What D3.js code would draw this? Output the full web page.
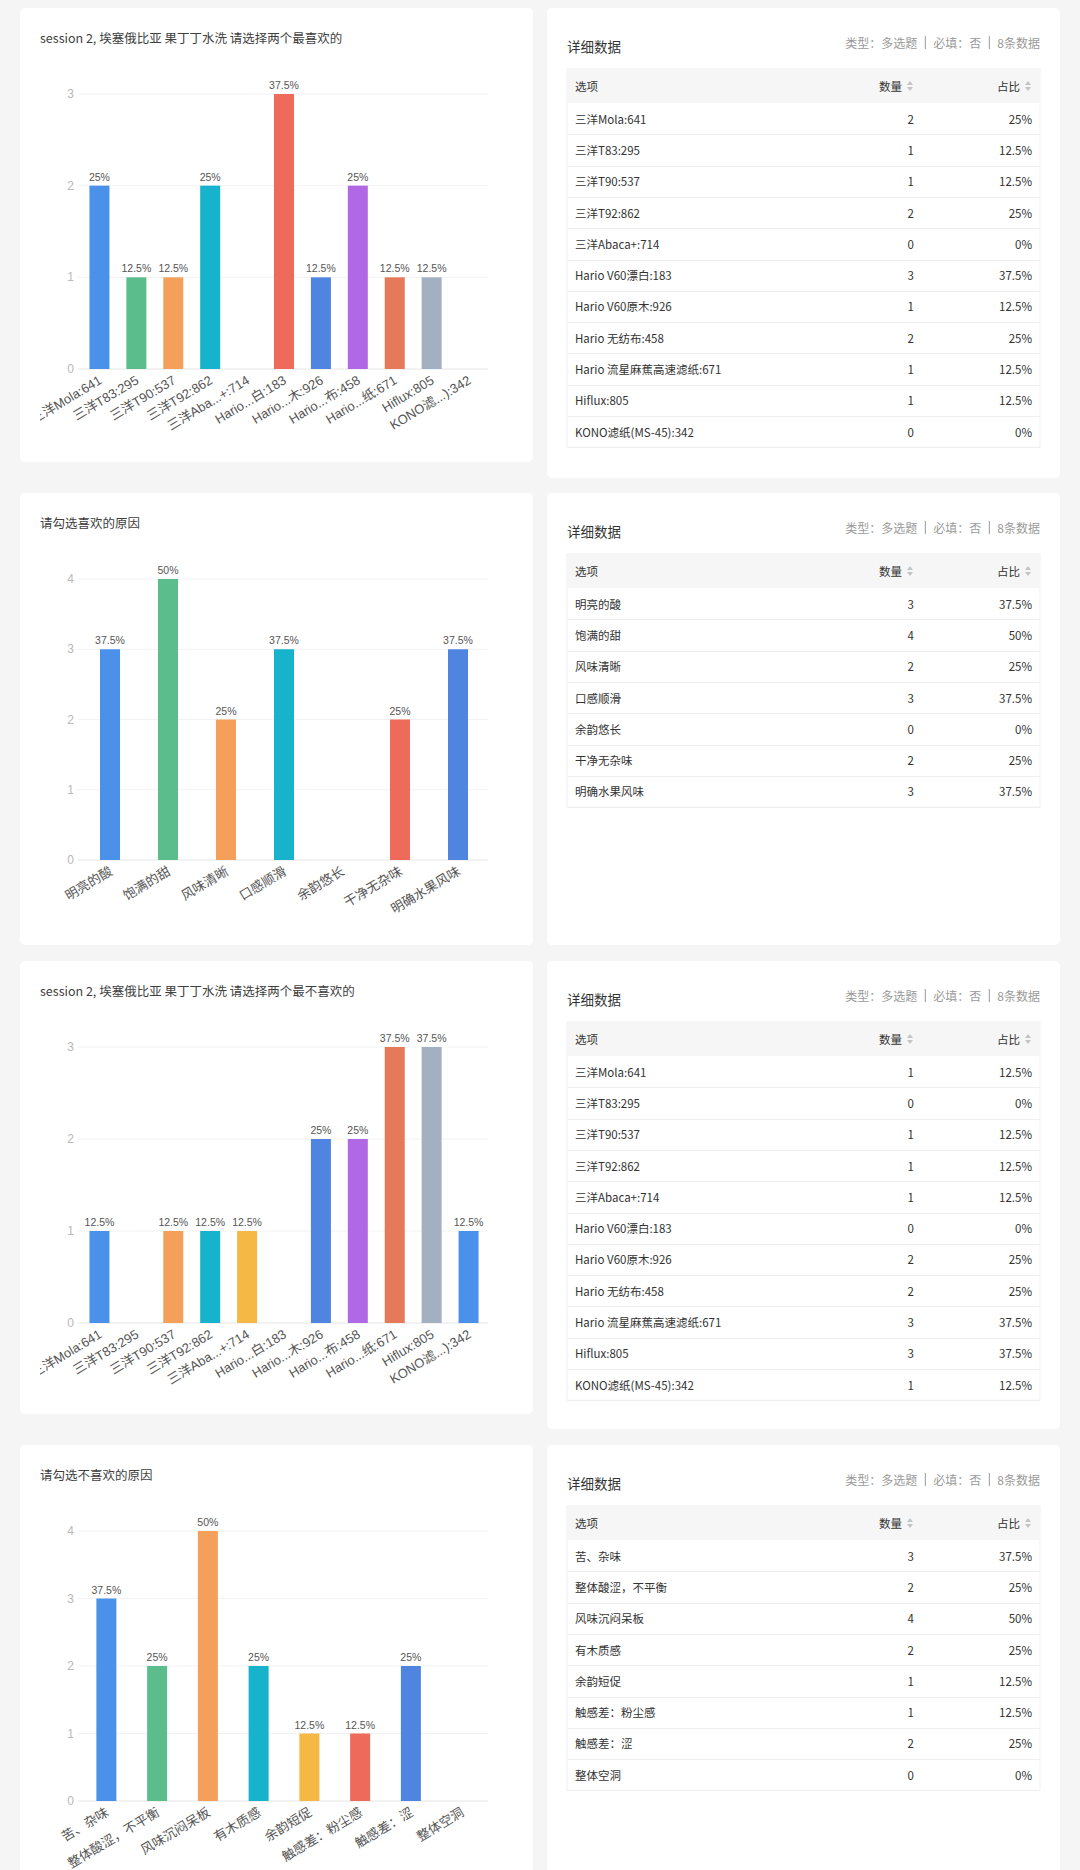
<!DOCTYPE html>
<html>
<head>
<meta charset="utf-8">
<script src="https://cdn.jsdelivr.net/npm/d3@7"></script>
<style>
  body { margin: 0; background: #f5f5f5; }
  svg { display: block; }
</style>
</head>
<body>
<svg id="page"></svg>
<script>
// ---- data ----
const totalAnswers = 8;

const filterNames = ['三洋Mola:641', '三洋T83:295', '三洋T90:537', '三洋T92:862', '三洋Abaca+:714',
  'Hario V60漂白:183', 'Hario V60原木:926', 'Hario 无纺布:458', 'Hario 流星麻蕉高速滤纸:671',
  'Hiflux:805', 'KONO滤纸(MS-45):342'];
// shortened axis labels used by the chart
const filterTicks = ['三洋Mola:641', '三洋T83:295', '三洋T90:537', '三洋T92:862', '三洋Aba...+:714',
  'Hario...白:183', 'Hario...木:926', 'Hario...布:458', 'Hario...纸:671', 'Hiflux:805', 'KONO滤...):342'];

const favCounts = [2, 1, 1, 2, 0, 3, 1, 2, 1, 1, 0];
const leastFavCounts = [1, 0, 1, 1, 1, 0, 2, 2, 3, 3, 1];

const likeReasons = ['明亮的酸', '饱满的甜', '风味清晰', '口感顺滑', '余韵悠长', '干净无杂味', '明确水果风味'];
const likeReasonCounts = [3, 4, 2, 3, 0, 2, 3];

const dislikeReasons = ['苦、杂味', '整体酸涩，不平衡', '风味沉闷呆板', '有木质感', '余韵短促', '触感差：粉尘感', '触感差：涩', '整体空洞'];
const dislikeReasonCounts = [3, 2, 4, 2, 1, 1, 2, 0];

const titles = [
  'session 2, 埃塞俄比亚 果丁丁水洗 请选择两个最喜欢的',
  '请勾选喜欢的原因',
  'session 2, 埃塞俄比亚 果丁丁水洗 请选择两个最不喜欢的',
  '请勾选不喜欢的原因',
];

const metaParts = ['类型：多选题', '必填：否', '8条数据'];

const palette = ['#4b91e9', '#5bbd8c', '#f4a05a', '#17b2cc', '#f6b844',
  '#ee6a5b', '#4f84e0', '#b068e4', '#e47a5a', '#a2b0c1'];

// ---- layout ----
const W = 1080, H = 1870;
const rowTops = [8, 493, 961, 1445];
const leftCard = { x: 20, w: 513 };
const rightCard = { x: 547, w: 513 };
const leftHeights = [454, 452, 453, 460];
const rightHeights = [470, 452, 468, 460];
const plotBottoms = [361, 367, 362, 356]; // offset of the zero line from card top

const pct = d3.format('.1~%');
const chartFont = '"Liberation Sans", Arial, "Noto Sans CJK SC", sans-serif';
const uiFont = '"Noto Sans CJK SC", "Noto Sans", sans-serif';

const svg = d3.select('#page').attr('width', W).attr('height', H);
svg.append('rect').attr('width', W).attr('height', H).attr('fill', '#f5f5f5');

function card(x, y, w, h) {
  svg.append('rect')
    .attr('x', x).attr('y', y).attr('width', w).attr('height', h)
    .attr('rx', 5).attr('fill', '#fff');
}

function renderBarCard(i, names, ticks, counts) {
  const top = rowTops[i];
  card(leftCard.x, top, leftCard.w, leftHeights[i]);

  svg.append('text')
    .attr('x', 40).attr('y', top + 29)
    .attr('dominant-baseline', 'central')
    .style('font-family', uiFont).style('font-size', '12.5px')
    .attr('fill', '#404040')
    .text(titles[i]);

  const clipId = 'clip' + i;
  svg.append('clipPath').attr('id', clipId)
    .append('rect').attr('x', 40).attr('y', top).attr('width', 490).attr('height', leftHeights[i]);

  const g = svg.append('g').attr('clip-path', `url(#${clipId})`);

  const maxV = d3.max(counts);
  const xScale = d3.scaleBand().domain(names).range([81, 487]);
  const yScale = d3.scaleLinear().domain([0, maxV]).range([top + plotBottoms[i], top + 86]);

  // gridlines
  const yTicks = d3.range(0, maxV + 1);
  g.append('g').selectAll('line').data(yTicks).join('line')
    .attr('x1', 78).attr('x2', 488)
    .attr('y1', (d) => yScale(d)).attr('y2', (d) => yScale(d))
    .attr('stroke', (d) => (d === 0 ? '#e6e6e6' : '#f2f2f2'))
    .attr('stroke-width', 1);

  // y labels
  g.append('g').selectAll('text').data(yTicks).join('text')
    .attr('x', 74).attr('y', (d) => yScale(d))
    .attr('text-anchor', 'end').attr('dominant-baseline', 'central')
    .style('font-family', chartFont).style('font-size', '12px')
    .attr('fill', '#b8b8b8')
    .text((d) => d);

  const bw = 20;
  const rows = names.map((n, k) => ({ name: n, tick: ticks[k], value: counts[k], color: palette[k % palette.length] }));

  g.append('g').selectAll('rect').data(rows.filter((d) => d.value > 0)).join('rect')
    .attr('x', (d) => xScale(d.name) + xScale.bandwidth() / 2 - bw / 2)
    .attr('y', (d) => yScale(d.value))
    .attr('width', bw)
    .attr('height', (d) => yScale(0) - yScale(d.value))
    .attr('fill', (d) => d.color);

  // value labels
  g.append('g').selectAll('text').data(rows.filter((d) => d.value > 0)).join('text')
    .attr('x', (d) => xScale(d.name) + xScale.bandwidth() / 2)
    .attr('y', (d) => yScale(d.value) - 5)
    .attr('text-anchor', 'middle')
    .style('font-family', chartFont).style('font-size', '10.5px')
    .attr('fill', '#555')
    .text((d) => pct(d.value / totalAnswers));

  // rotated category labels
  g.append('g').selectAll('text').data(rows).join('text')
    .attr('transform', (d) => `translate(${xScale(d.name) + xScale.bandwidth() / 2 + 1},${yScale(0) + 10}) rotate(-31)`)
    .attr('text-anchor', 'end').attr('dominant-baseline', 'central')
    .style('font-family', chartFont).style('font-size', '13px')
    .attr('fill', '#555')
    .text((d) => d.tick);
}

function sortIcon(x, y) {
  const ic = svg.append('g').attr('transform', `translate(${x},${y})`).attr('fill', '#c4c4c4');
  ic.append('path').attr('d', 'M-3,-1 L3,-1 L0,-5 Z');
  ic.append('path').attr('d', 'M-3,1 L3,1 L0,5 Z');
}

function renderTableCard(i, names, counts) {
  const top = rowTops[i];
  card(rightCard.x, top, rightCard.w, rightHeights[i]);

  svg.append('text')
    .attr('x', 567).attr('y', top + 38)
    .attr('dominant-baseline', 'central')
    .style('font-family', uiFont).style('font-size', '13.5px')
    .attr('fill', '#333')
    .text('详细数据');

  // meta line, laid out right to left with separators
  const meta = svg.append('g')
    .style('font-family', uiFont).style('font-size', '12px')
    .attr('fill', '#9a9a9a');
  let mx = 1040;
  const my = top + 34;
  metaParts.slice().reverse().forEach((part, k) => {
    const t = meta.append('text').attr('x', mx).attr('y', my)
      .attr('text-anchor', 'end').attr('dominant-baseline', 'central').text(part);
    mx -= t.node().getComputedTextLength();
    if (k < metaParts.length - 1) {
      mx -= 8;
      meta.append('line').attr('x1', mx).attr('x2', mx).attr('y1', my - 6).attr('y2', my + 7)
        .attr('stroke', '#9a9a9a').attr('stroke-width', 1);
      mx -= 8;
    }
  });

  const tx = 567, tw = 473;
  const headTop = top + 61, headH = 34, rowH = 31.3;
  const rows = names.map((n, k) => ({ name: n, value: counts[k] }));

  const yRow = d3.scaleLinear().domain([0, 1]).range([headTop + headH, headTop + headH + rowH]);

  svg.append('rect')
    .attr('x', tx).attr('y', headTop).attr('width', tw).attr('height', headH + rowH * rows.length)
    .attr('fill', '#fff').attr('stroke', '#f0f0f0').attr('stroke-width', 1);
  svg.append('rect')
    .attr('x', tx).attr('y', headTop).attr('width', tw).attr('height', headH)
    .attr('fill', '#f6f6f6');

  const headY = headTop + headH / 2;
  const head = svg.append('g')
    .style('font-family', uiFont).style('font-size', '11.5px').attr('fill', '#333');
  head.append('text').attr('x', 575).attr('y', headY).attr('dominant-baseline', 'central').text('选项');
  head.append('text').attr('x', 902).attr('y', headY).attr('text-anchor', 'end').attr('dominant-baseline', 'central').text('数量');
  head.append('text').attr('x', 1020).attr('y', headY).attr('text-anchor', 'end').attr('dominant-baseline', 'central').text('占比');
  sortIcon(910, headY);
  sortIcon(1028, headY);

  const body = svg.append('g')
    .style('font-family', uiFont).style('font-size', '11.5px').attr('fill', '#333');

  body.selectAll('line').data(rows).join('line')
    .attr('x1', tx).attr('x2', tx + tw)
    .attr('y1', (d, k) => Math.round(yRow(k + 1)) + 0.5)
    .attr('y2', (d, k) => Math.round(yRow(k + 1)) + 0.5)
    .attr('stroke', '#efefef');

  const rowG = body.selectAll('g.row').data(rows).join('g').attr('class', 'row')
    .attr('transform', (d, k) => `translate(0,${yRow(k + 0.5)})`);
  rowG.append('text').attr('x', 575).attr('dominant-baseline', 'central').text((d) => d.name);
  rowG.append('text').attr('x', 914).attr('text-anchor', 'end').attr('dominant-baseline', 'central').text((d) => d.value);
  rowG.append('text').attr('x', 1032).attr('text-anchor', 'end').attr('dominant-baseline', 'central')
    .text((d) => pct(d.value / totalAnswers));
}

renderBarCard(0, filterNames, filterTicks, favCounts);
renderTableCard(0, filterNames, favCounts);
renderBarCard(1, likeReasons, likeReasons, likeReasonCounts);
renderTableCard(1, likeReasons, likeReasonCounts);
renderBarCard(2, filterNames, filterTicks, leastFavCounts);
renderTableCard(2, filterNames, leastFavCounts);
renderBarCard(3, dislikeReasons, dislikeReasons, dislikeReasonCounts);
renderTableCard(3, dislikeReasons, dislikeReasonCounts);
</script>
</body>
</html>
